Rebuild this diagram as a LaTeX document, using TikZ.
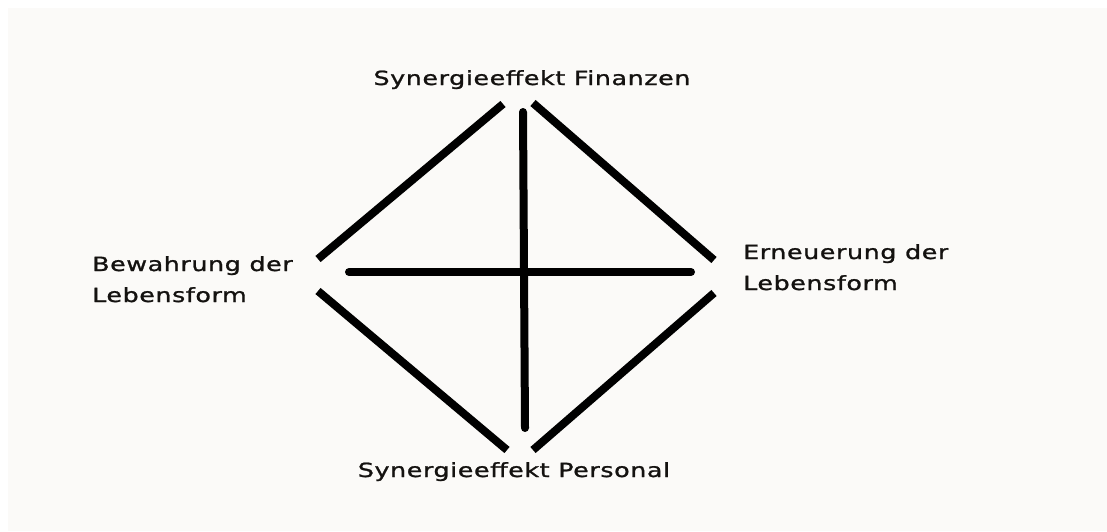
\documentclass[tikz,border=0pt]{standalone}
\usepackage{fontspec}
\usepackage{tikz}
\usepackage{xcolor}
\usetikzlibrary{positioning}
\newfontfamily\labelfont[FakeStretch=1.3,LetterSpace=3,FakeBold=1.2]{DejaVu Sans}
\definecolor{paper}{RGB}{251,250,248}
\definecolor{ink}{RGB}{20,18,16}

\begin{document}
\begin{tikzpicture}[x=1pt, y=-1pt,
    bar/.style={line width=8pt, black},
    label/.style={font=\labelfont\fontsize{19.5}{31}\selectfont, text=ink, inner sep=0pt, align=left}]
    % Page and background
    \useasboundingbox (0,0) rectangle (1107,531);
    \fill[white] (0,0) rectangle (1107,531);
    \fill[paper] (8,8) rectangle (1107,531);

    % Labels
    \node[label, anchor=base] (finanzen) at (532,85) {Synergieeffekt Finanzen};
    \node[label, anchor=base] (personal) at (514,477) {Synergieeffekt Personal};
    \node[label, anchor=base west] (bewahrung) at (92,302) {Bewahrung der\\Lebensform};
    \node[label, anchor=base west] (erneuerung) at (743,290) {Erneuerung der\\Lebensform};

    % End points of the bars
    \coordinate (tl1) at (318,259);
    \coordinate (tl2) at (503,104);
    \coordinate (tr1) at (533,103);
    \coordinate (tr2) at (714,260);
    \coordinate (br1) at (714,293);
    \coordinate (br2) at (533,450);
    \coordinate (bl1) at (318,291);
    \coordinate (bl2) at (507,450);
    \coordinate (top) at (523,112);
    \coordinate (bottom) at (525,428);
    \coordinate (left) at (349,272);
    \coordinate (right) at (691,272);

    % Diamond
    \draw[bar] (tl1) -- (tl2);
    \draw[bar] (tr1) -- (tr2);
    \draw[bar] (br1) -- (br2);
    \draw[bar] (bl1) -- (bl2);

    % Cross
    \draw[bar, line cap=round] (top) -- (bottom);
    \draw[bar, line cap=round] (left) -- (right);
\end{tikzpicture}
\end{document}
